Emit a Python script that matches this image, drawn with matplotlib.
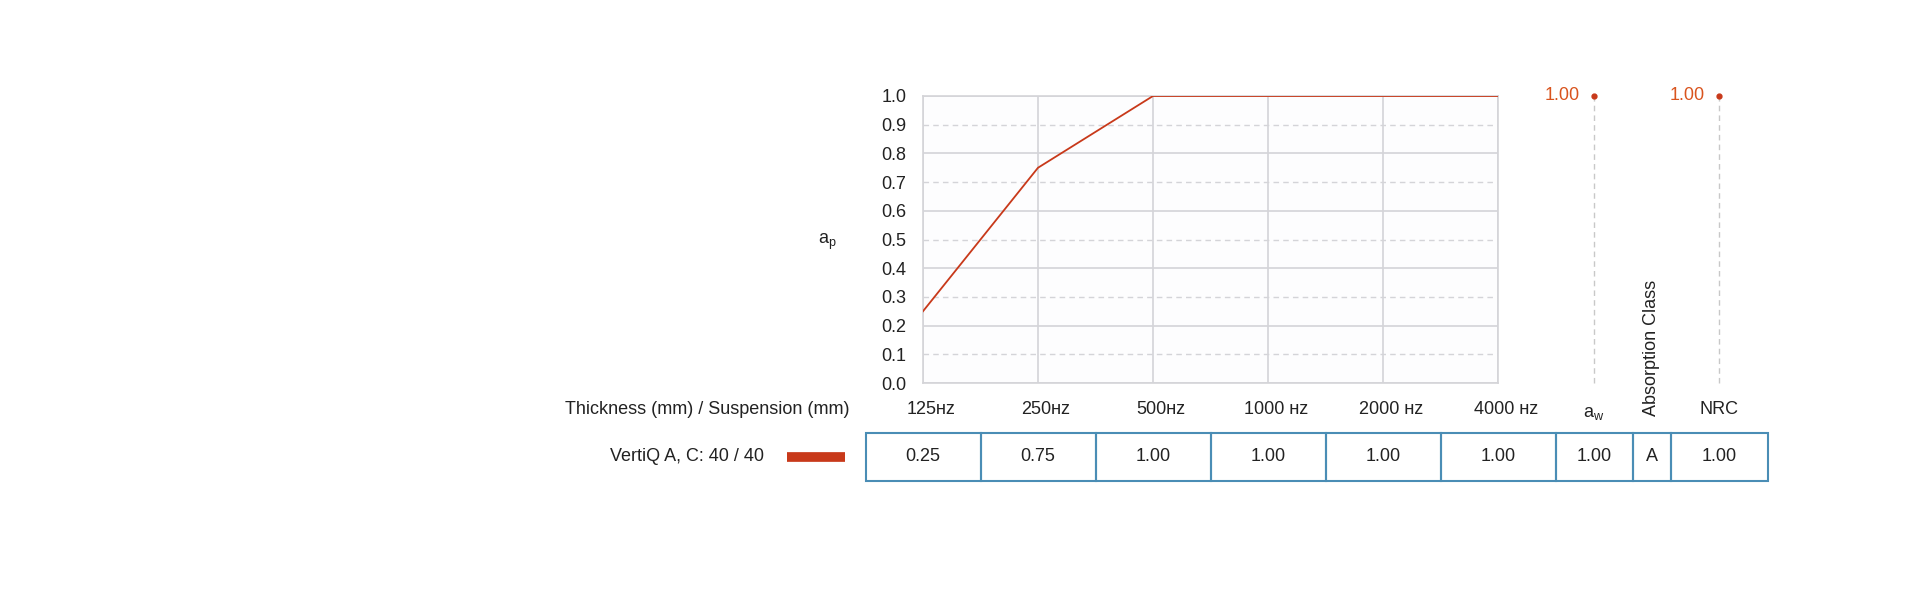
import matplotlib.pyplot as plt
from matplotlib.patches import Rectangle

plt.rcParams['font.family'] = ['Liberation Sans', 'DejaVu Sans']

# data
freq_labels = ['125ʜᴢ', '250ʜᴢ', '500ʜᴢ', '1000 ʜᴢ', '2000 ʜᴢ', '4000 ʜᴢ']
alpha_p = [0.25, 0.75, 1.00, 1.00, 1.00, 1.00]
alpha_w = 1.00
nrc = 1.00
abs_class = 'A'
product = 'VertiQ A, C: 40 / 40'

red = '#c8391a'
blue = '#4a8db5'
grid = '#d4d4d8'
fs = 13

W, H = 1920, 599
fig = plt.figure(figsize=(W / 100, H / 100), dpi=100)
ax = fig.add_axes([923 / W, 1 - 383 / H, (1498 - 923) / W, (383 - 96) / H])
ax.set_facecolor('#fdfdfe')

x = list(range(len(alpha_p)))
ax.set_xlim(0, len(x) - 1)
ax.set_ylim(0, 1)

# grid: solid every 0.2, dashed between
for i in range(11):
    yv = i / 10
    if i % 2 == 0:
        ax.axhline(yv, color=grid, lw=1.2, zorder=1)
    else:
        ax.axhline(yv, color=grid, lw=1.0, ls=(0, (4, 3)), zorder=1)
for xv in x:
    ax.axvline(xv, color=grid, lw=1.2, zorder=1)
for s in ax.spines.values():
    s.set_color(grid)
    s.set_linewidth(1.2)

ax.plot(x, alpha_p, color=red, lw=1.3, zorder=3)

ax.set_yticks([i / 10 for i in range(11)])
ax.set_yticklabels(['%.1f' % (i / 10) for i in range(11)], fontsize=fs, color='#222222')
ax.tick_params(axis='y', length=0, pad=12)
ax.set_xticks([])
ax.text(-0.83, 0.49, r'a$_\mathregular{p}$', fontsize=fs, color='#222222',
        ha='center', va='center', transform=ax.transData)

# single number columns (aw and NRC)
aw_x = 5.835
nrc_x = 6.92
for cx, val in [(aw_x, alpha_w), (nrc_x, nrc)]:
    ax.plot([cx, cx], [0, val], color='#c8c8c8', lw=1.0, ls=(0, (4, 3)), clip_on=False, zorder=2)
    ax.plot([cx], [val], marker='o', ms=3.5, color=red, clip_on=False, zorder=4)
    ax.text(cx - 0.12, val, '%.2f' % val, color='#d9541e', fontsize=fs,
            ha='right', va='center', clip_on=False)

# header row
hy = -0.094
for xi, lab in zip(x, freq_labels):
    ax.text(xi + 0.07, hy, lab, fontsize=fs, color='#222222', ha='center', va='center')
ax.text(aw_x, hy - 0.012, r'a$_\mathregular{w}$', fontsize=fs, color='#222222', ha='center', va='center')
ax.text(nrc_x, hy, 'NRC', fontsize=fs, color='#222222', ha='center', va='center')
ax.text(6.335, -0.115, 'Absorption Class', fontsize=fs, color='#222222', rotation=90,
        ha='center', va='bottom')
ax.text(-0.64, hy, 'Thickness (mm) / Suspension (mm)', fontsize=fs, color='#222222',
        ha='right', va='center')

# value row
ty, by = -0.174, -0.341
vy = (ty + by) / 2
cells = [(xi - 0.5, xi + 0.5, '%.2f' % v) for xi, v in zip(x, alpha_p)]
cells += [(5.50, 6.17, '%.2f' % alpha_w), (6.17, 6.50, abs_class), (6.50, 7.35, '%.2f' % nrc)]
for x0, x1, txt in cells:
    ax.add_patch(Rectangle((x0, by), x1 - x0, ty - by, fill=False, ec=blue, lw=1.5, clip_on=False))
    ax.text((x0 + x1) / 2, vy, txt, fontsize=fs, color='#222222', ha='center', va='center')

ax.text(-1.38, vy, product, fontsize=fs, color='#222222', ha='right', va='center')
ax.plot([-1.18, -0.68], [vy, vy], color=red, lw=7, solid_capstyle='butt', clip_on=False)

fig.savefig('out.png', dpi=100)
